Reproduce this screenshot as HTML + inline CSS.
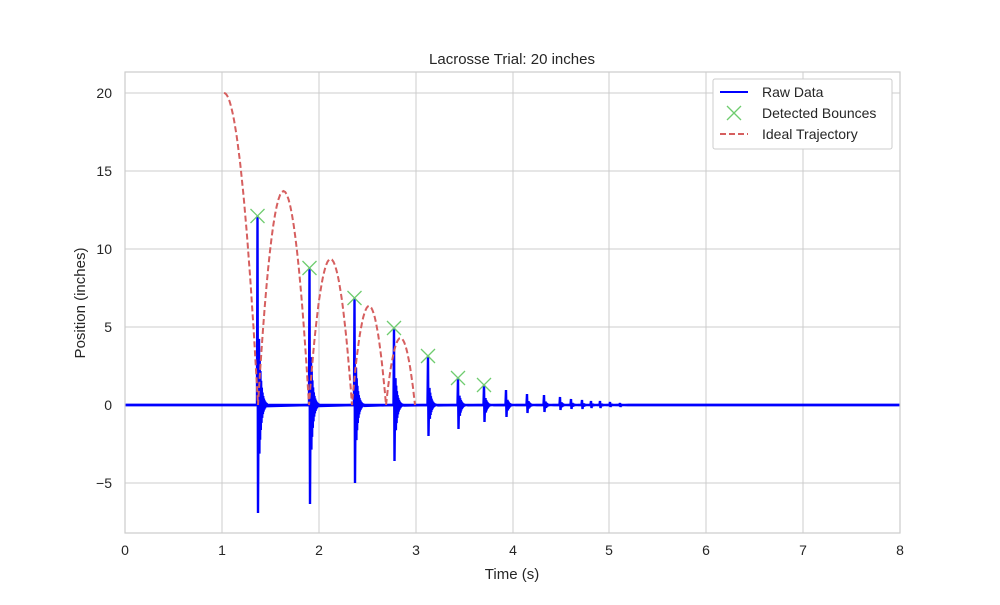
<!DOCTYPE html>
<html><head><style>
body{margin:0;background:#fff;}
svg{font-family:"Liberation Sans","DejaVu Sans",sans-serif;}
</style></head><body>
<svg id="s" width="1000" height="600" xmlns="http://www.w3.org/2000/svg">
<rect width="1000" height="600" fill="#fff"/>
<g stroke="#cccccc" stroke-width="1">
<line x1="125" y1="72" x2="125" y2="533"/><line x1="222" y1="72" x2="222" y2="533"/>
<line x1="319" y1="72" x2="319" y2="533"/><line x1="416" y1="72" x2="416" y2="533"/>
<line x1="513" y1="72" x2="513" y2="533"/><line x1="609" y1="72" x2="609" y2="533"/>
<line x1="706" y1="72" x2="706" y2="533"/><line x1="803" y1="72" x2="803" y2="533"/>
<line x1="900" y1="72" x2="900" y2="533"/>
<line x1="125" y1="93" x2="900" y2="93"/><line x1="125" y1="171" x2="900" y2="171"/>
<line x1="125" y1="249" x2="900" y2="249"/><line x1="125" y1="327" x2="900" y2="327"/>
<line x1="125" y1="405" x2="900" y2="405"/><line x1="125" y1="483" x2="900" y2="483"/>
</g>
<g id="plot"></g>
<rect x="125" y="72" width="775" height="461" fill="none" stroke="#cccccc" stroke-width="1.2"/>
<g font-size="14" fill="#262626" text-anchor="middle">
<text x="125" y="555">0</text><text x="222" y="555">1</text><text x="319" y="555">2</text>
<text x="416" y="555">3</text><text x="513" y="555">4</text><text x="609" y="555">5</text>
<text x="706" y="555">6</text><text x="803" y="555">7</text><text x="900" y="555">8</text>
<text x="512" y="579" font-size="15">Time (s)</text>
<text x="512" y="64" font-size="15">Lacrosse Trial: 20 inches</text>
</g>
<g font-size="14" fill="#262626" text-anchor="end">
<text x="112" y="98">20</text><text x="112" y="176">15</text><text x="112" y="254">10</text>
<text x="112" y="332">5</text><text x="112" y="410">0</text><text x="112" y="488">−5</text>
</g>
<text transform="translate(85,303) rotate(-90)" font-size="15" fill="#262626" text-anchor="middle">Position (inches)</text>
<g>
<rect x="713" y="79" width="179" height="70" fill="#fff" stroke="#cccccc" rx="2"/>
<line x1="720" y1="92" x2="748" y2="92" stroke="#0000ff" stroke-width="2"/>
<path d="M727 106 l14 14 M741 106 l-14 14" stroke="#6fcc6f" stroke-width="1.3"/>
<line x1="720" y1="134" x2="748" y2="134" stroke="#d65f5f" stroke-width="2" stroke-dasharray="6,3"/>
<g font-size="14" fill="#262626"><text x="762" y="97">Raw Data</text><text x="762" y="118">Detected Bounces</text><text x="762" y="139">Ideal Trajectory</text></g>
</g>
</svg>
<script>
const g=document.getElementById('plot');const NS='http://www.w3.org/2000/svg';
function el(t,a){const e=document.createElementNS(NS,t);for(const k in a)e.setAttribute(k,a[k]);g.appendChild(e);return e;}
let spikes=[[257.5,216,513],[309.5,268,504],[354.5,298,483],[394,328,461],[428,356,436],[458,378,429],[484,385,422],[506,390,417],[527,394,413],[544,395,412],[560,397,410],[571,399,409],[582,400,409],[591,401,408],[600,401,408],[610,402,407],[620,403,407]];
let d='M125 405 ';
for(const s of spikes){
 d+=`L${s[0]-0.5} 405 L${s[0]} ${s[1]} L${s[0]+0.5} ${s[2]} L${s[0]+1} 405 `;
 let up=(405-s[1])*0.35,dn=(s[2]-405)*0.45;
 for(let i=0;i<12;i++){let xx=s[0]+1.5+i*0.7;let k=Math.exp(-i/3);d+=`L${xx.toFixed(1)} ${(405-up*k).toFixed(1)} L${(xx+0.35).toFixed(1)} ${(405+dn*k).toFixed(1)} `;}
}
d+='L900 405';
el('path',{d:d,fill:'none',stroke:'#0000ff','stroke-width':2.4,'stroke-linejoin':'bevel'});
el('line',{x1:125,y1:405,x2:900,y2:405,stroke:'#0000ff','stroke-width':2.4});
let p='';
for(let i=0;i<=30;i++){let xx=224+34*i/30;let y=405-312*(1-Math.pow((xx-224)/34,2));p+=(i?'L':'M')+xx.toFixed(1)+' '+y.toFixed(1)+' ';}
const arcs=[[258,309,191],[309,352,259],[352,386,306],[386,415,338]];
for(const a of arcs){for(let i=0;i<=30;i++){let t=i/30;let xx=a[0]+(a[1]-a[0])*t;let y=405-(405-a[2])*4*t*(1-t);p+='L'+xx.toFixed(1)+' '+y.toFixed(1)+' ';}}
el('path',{d:p,fill:'none',stroke:'#d65f5f','stroke-width':2,'stroke-dasharray':'6,3'});
const mk=[[257.5,216],[309.5,268],[354.5,298],[394,328],[428,356],[458,378],[484,385]];
for(const m of mk){el('path',{d:`M${m[0]-7} ${m[1]-7} l14 14 M${m[0]+7} ${m[1]-7} l-14 14`,stroke:'#6fcc6f','stroke-width':1.3,fill:'none'});}
</script>
</body></html>
